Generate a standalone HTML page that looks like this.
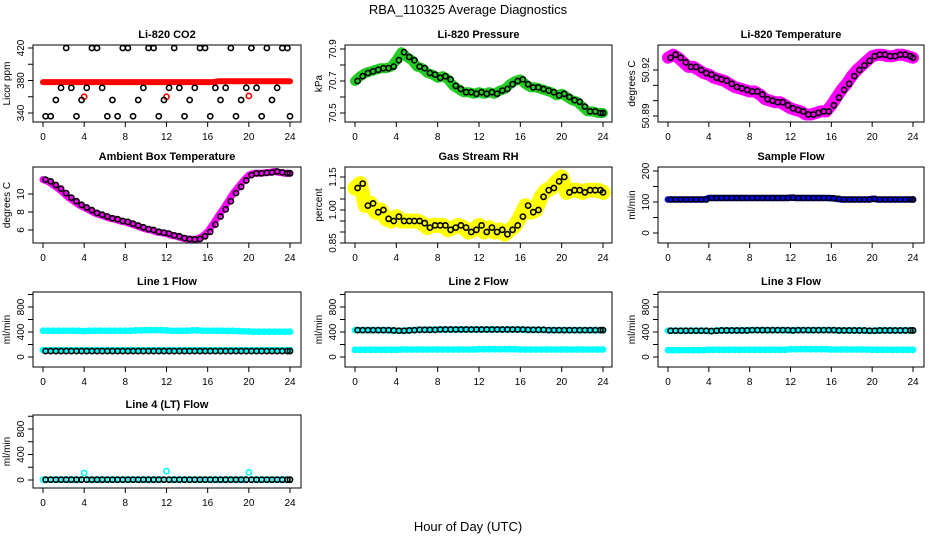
<!DOCTYPE html>
<html><head><meta charset="utf-8"><style>
html,body{margin:0;padding:0;background:#fff;}
svg{display:block;font-family:"Liberation Sans",sans-serif;}
</style></head><body>
<svg id="chart" width="936" height="540" viewBox="0 0 936 540">
<text x="468" y="14" text-anchor="middle" font-size="13">RBA_110325  Average Diagnostics</text>
<text x="468" y="531" text-anchor="middle" font-size="13">Hour of Day (UTC)</text>
</svg>
<script>
const hours = [0,0.5,1,1.5,2,2.5,3,3.5,4,4.5,5,5.5,6,6.5,7,7.5,8,8.5,9,9.5,10,10.5,11,11.5,12,12.5,13,13.5,14,14.5,15,15.5,16,16.5,17,17.5,18,18.5,19,19.5,20,20.5,21,21.5,22,22.5,23,23.5,24];
const xTicks = [0,4,8,12,16,20,24];

const co2Red = [378,378,378,378,378,378,378,378,378,378,378,378,378,378,378,378,378,378,378,378,378,378,378,378,378,378,378,378,378,378,378,378,378,378,379,379,379,379,379,379,379,379,379,379,379,379,379,379,379];
const co2OutlierHours = [4,12,20];
const co2OutlierValues = [360,360,361];
const co2Black = [336,336,356,371,420,371,336,356,371,420,420,371,336,356,336,420,420,336,356,371,420,420,336,356,371,420,371,336,356,371,420,420,336,371,356,371,420,336,356,371,420,371,336,420,356,371,420,420,336];
const pressure = [70.70,70.73,70.75,70.76,70.77,70.78,70.78,70.79,70.83,70.88,70.85,70.83,70.79,70.78,70.75,70.74,70.72,70.73,70.71,70.67,70.65,70.63,70.63,70.62,70.63,70.62,70.63,70.62,70.64,70.65,70.68,70.70,70.71,70.68,70.66,70.66,70.65,70.64,70.63,70.61,70.62,70.60,70.58,70.57,70.54,70.51,70.51,70.50,70.50];
const liTemp = [50.928,50.930,50.928,50.925,50.922,50.922,50.920,50.918,50.917,50.915,50.914,50.913,50.911,50.909,50.908,50.907,50.906,50.906,50.904,50.901,50.900,50.899,50.899,50.897,50.895,50.894,50.893,50.891,50.891,50.892,50.893,50.893,50.897,50.902,50.907,50.911,50.916,50.920,50.923,50.926,50.929,50.930,50.930,50.929,50.929,50.930,50.930,50.929,50.928];
const ambTemp = [11.6,11.4,11.0,10.6,10.1,9.6,9.2,8.8,8.5,8.2,7.9,7.7,7.5,7.3,7.2,7.0,6.9,6.7,6.5,6.3,6.1,6.0,5.8,5.7,5.6,5.4,5.3,5.1,5.0,4.95,5.0,5.3,5.8,6.6,7.5,8.3,9.2,10.1,10.8,11.5,12.1,12.3,12.3,12.35,12.4,12.5,12.4,12.3,12.3];
const rh = [1.10,1.12,1.02,1.03,0.99,1.00,0.96,0.95,0.97,0.95,0.95,0.95,0.95,0.94,0.92,0.93,0.93,0.93,0.91,0.92,0.93,0.92,0.90,0.91,0.93,0.90,0.92,0.90,0.91,0.89,0.91,0.93,0.97,1.02,0.99,1.00,1.06,1.09,1.10,1.13,1.15,1.08,1.09,1.09,1.08,1.09,1.09,1.09,1.08];
const sampleFlow = [108,108,108,108,108,108,108,108,113,113,113,113,113,113,113,113,113,113,113,113,113,113,113,113,114,113,113,113,113,113,113,113,112,110,108,108,108,108,108,108,110,108,108,108,108,108,108,108,108];
const line1High = [420,420,420,420,420,420,420,420,415,420,420,420,420,420,420,420,420,420,425,425,430,430,430,430,425,420,420,420,420,425,425,420,420,420,420,420,418,418,415,410,410,405,405,405,405,405,405,405,405];
const line1Low = [110,110,110,110,110,110,110,110,110,110,110,110,110,110,110,110,110,110,110,110,110,110,110,110,110,110,110,110,110,110,110,110,110,110,110,110,110,110,110,110,110,110,110,110,110,110,110,110,110];
const line1Black = [95,95,95,95,95,95,95,95,95,95,95,95,95,95,95,95,95,95,95,95,95,95,95,95,95,95,95,95,95,95,95,95,95,95,95,95,95,95,95,95,95,95,95,95,95,95,95,95,95];
const line2High = [430,430,430,430,430,430,430,425,420,420,425,430,435,435,435,435,440,440,440,440,440,440,440,440,440,440,440,440,440,440,440,440,440,435,435,435,435,430,430,430,430,430,430,430,430,430,430,430,430];
const line2Low = [115,115,115,115,115,115,115,115,115,120,120,120,120,120,120,120,120,120,120,120,120,120,120,120,125,125,125,125,125,125,125,125,120,120,120,120,120,120,120,120,120,120,120,120,120,120,120,120,120];
const line3High = [420,420,420,420,420,420,420,420,415,420,425,425,425,425,425,425,430,430,430,430,430,430,430,430,425,430,430,430,430,430,430,430,430,425,425,425,425,425,425,420,420,425,425,425,425,425,425,425,425];
const line3Low = [110,110,110,110,110,110,110,110,115,115,115,115,115,115,115,115,115,115,115,115,115,115,115,115,125,125,125,125,125,125,125,125,120,120,120,120,120,120,120,120,115,115,115,115,115,115,115,115,115];
const line4 = [5,5,5,5,5,5,5,5,110,5,5,5,5,5,5,5,5,5,5,5,5,5,5,5,140,5,5,5,5,5,5,5,5,5,5,5,5,5,5,5,120,5,5,5,5,5,5,5,5];
const line4Black = [5,5,5,5,5,5,5,5,5,5,5,5,5,5,5,5,5,5,5,5,5,5,5,5,5,5,5,5,5,5,5,5,5,5,5,5,5,5,5,5,5,5,5,5,5,5,5,5,5];

const NS = "http://www.w3.org/2000/svg";
const svg = document.getElementById("chart");
function mk(tag, attrs, parent){ const e=document.createElementNS(NS,tag); for(const k in attrs) e.setAttribute(k,attrs[k]); (parent||svg).appendChild(e); return e; }

const cols = [{b0:33,b1:301,x0:43,x24:290},{b0:345,b1:612,x0:355,x24:603},{b0:658,b1:924,x0:668,x24:913}];
const rows = [{t:45,b:122},{t:167,b:243},{t:292,b:367},{t:415,b:488}];

function panel(cfg){
  const c = cols[cfg.col], r = rows[cfg.row];
  const g = mk("g",{});
  
  
  const xs = h => c.x0 + (c.x24 - c.x0) * h / 24;
  const ys = v => cfg.py1 + (cfg.py2 - cfg.py1) * (v - cfg.v1) / (cfg.v2 - cfg.v1);
  cfg.series.forEach(s=>{
    const sg = mk("g",{},g);
    
    
    const xh = s.hours || hours;
    if (s.band){
      const pts = s.data.map((v,i)=>xs(xh[i]).toFixed(1)+","+ys(v).toFixed(1)).join(" ");
      const pl = mk("polyline",{points:pts,fill:"none",stroke:s.color,"stroke-width":s.band,"stroke-linejoin":"round","stroke-linecap":"round"},sg);
      
      
    }
    if (s.noPoints) return;
    s.data.forEach((v,i)=>{
      const off = s.offset||0;
      const ci = mk("circle",{cx:xs(Math.min(24,xh[i]+off)),cy:ys(v),r:2.6,fill:"none",stroke:s.color,"stroke-width":1.6},sg);
      
      
    });
  });
  const bx = mk("rect",{x:c.b0,y:r.t,width:c.b1-c.b0,height:r.b-r.t,fill:"none",stroke:"#000","stroke-width":1},g);
  
  
  xTicks.forEach(t=>{
    mk("line",{x1:xs(t),x2:xs(t),y1:r.b,y2:r.b+5,stroke:"#000"},g);
    if (cfg.xlabels){
      const tx = mk("text",{x:xs(t),y:r.b+18,"text-anchor":"middle","font-size":10},g);
      tx.textContent = t;
      
      
    }
  });
  cfg.yticks.forEach(t=>{
    mk("line",{x1:c.b0,x2:c.b0-5,y1:ys(t),y2:ys(t),stroke:"#000"},g);
  });
  cfg.ylabels.forEach(t=>{
    const tx = mk("text",{x:0,y:0,"text-anchor":"middle","font-size":10,transform:`translate(${c.b0-9},${ys(t)}) rotate(-90)`},g);
    tx.textContent = t;
    
    
  });
  const yl = mk("text",{x:0,y:0,"text-anchor":"middle","font-size":10,transform:`translate(${c.b0-23},${(r.t+r.b)/2}) rotate(-90)`},g);
  yl.textContent = cfg.ylab;
  
  
  const ti = mk("text",{x:(c.b0+c.b1)/2,y:r.t-7,"text-anchor":"middle","font-size":11,"font-weight":"bold"},g);
  ti.textContent = cfg.title;
  
  
}

panel({name:"co2-panel",col:0,row:0,title:"Li-820 CO2",ylab:"Licor ppm",v1:420,py1:48,v2:340,py2:113,yticks:[340,360,380,400,420],ylabels:[340,380,420],xlabels:true,
  series:[{name:"co2-raw",color:"#ff0000",data:co2Red,band:6,noPoints:true},{name:"co2-outliers",color:"#ff0000",data:co2OutlierValues,hours:co2OutlierHours},{name:"co2-avg",color:"#000",data:co2Black,offset:0.25}]});
panel({name:"pressure-panel",col:1,row:0,title:"Li-820 Pressure",ylab:"kPa",v1:70.9,py1:49,v2:70.5,py2:113,yticks:[70.5,70.6,70.7,70.8,70.9],ylabels:["70.5","70.7","70.9"],xlabels:true,
  series:[{name:"pressure-raw",color:"#22cc22",data:pressure,band:10},{name:"pressure-avg",color:"#000",data:pressure,offset:0.25}]});
panel({name:"li820-temp-panel",col:2,row:0,title:"Li-820 Temperature",ylab:"degrees C",v1:50.92,py1:70,v2:50.89,py2:116,yticks:[50.89,50.90,50.91,50.92],ylabels:["50.89","50.92"],xlabels:true,
  series:[{name:"li820-temp-raw",color:"#ff00ff",data:liTemp,band:12},{name:"li820-temp-avg",color:"#000",data:liTemp,offset:0.25}]});
panel({name:"ambient-temp-panel",col:0,row:1,title:"Ambient Box Temperature",ylab:"degrees C",v1:10,py1:194,v2:6,py2:230,yticks:[6,8,10],ylabels:[6,8,10],xlabels:true,
  series:[{name:"ambient-temp-raw",color:"#ff00ff",data:ambTemp,band:7},{name:"ambient-temp-avg",color:"#000",data:ambTemp,offset:0.25}]});
panel({name:"rh-panel",col:1,row:1,title:"Gas Stream RH",ylab:"percent",v1:1.15,py1:177,v2:0.85,py2:243,yticks:[0.85,0.90,0.95,1.00,1.05,1.10,1.15],ylabels:["0.85","1.00","1.15"],xlabels:true,
  series:[{name:"rh-raw",color:"#ffff00",data:rh,band:15},{name:"rh-avg",color:"#000",data:rh,offset:0.25}]});
panel({name:"sample-flow-panel",col:2,row:1,title:"Sample Flow",ylab:"ml/min",v1:200,py1:171,v2:0,py2:233,yticks:[0,50,100,150,200],ylabels:[0,100,200],xlabels:true,
  series:[{name:"sample-flow-raw",color:"#0000ff",data:sampleFlow,band:6},{name:"sample-flow-avg",color:"#000",data:sampleFlow,offset:0.25}]});
panel({name:"line1-flow-panel",col:0,row:2,title:"Line 1 Flow",ylab:"ml/min",v1:800,py1:307,v2:0,py2:357,yticks:[0,200,400,600,800,1000],ylabels:[0,400,800],xlabels:true,
  series:[{name:"line1-high",color:"#00ffff",data:line1High,band:6},{name:"line1-low",color:"#00ffff",data:line1Low,band:6},{name:"line1-avg",color:"#000",data:line1Black,offset:0.25}]});
panel({name:"line2-flow-panel",col:1,row:2,title:"Line 2 Flow",ylab:"ml/min",v1:800,py1:307,v2:0,py2:357,yticks:[0,200,400,600,800,1000],ylabels:[0,400,800],xlabels:true,
  series:[{name:"line2-high",color:"#00ffff",data:line2High,band:6},{name:"line2-low",color:"#00ffff",data:line2Low,band:6},{name:"line2-avg",color:"#000",data:line2High,offset:0.25}]});
panel({name:"line3-flow-panel",col:2,row:2,title:"Line 3 Flow",ylab:"ml/min",v1:800,py1:307,v2:0,py2:357,yticks:[0,200,400,600,800,1000],ylabels:[0,400,800],xlabels:true,
  series:[{name:"line3-high",color:"#00ffff",data:line3High,band:6},{name:"line3-low",color:"#00ffff",data:line3Low,band:6},{name:"line3-avg",color:"#000",data:line3High,offset:0.25}]});
panel({name:"line4-flow-panel",col:0,row:3,title:"Line 4 (LT) Flow",ylab:"ml/min",v1:800,py1:429,v2:0,py2:480,yticks:[0,200,400,600,800,1000],ylabels:[0,400,800],xlabels:true,
  series:[{name:"line4-raw",color:"#00ffff",data:line4},{name:"line4-avg",color:"#000",data:line4Black,offset:0.25}]});
</script>
</body></html>
